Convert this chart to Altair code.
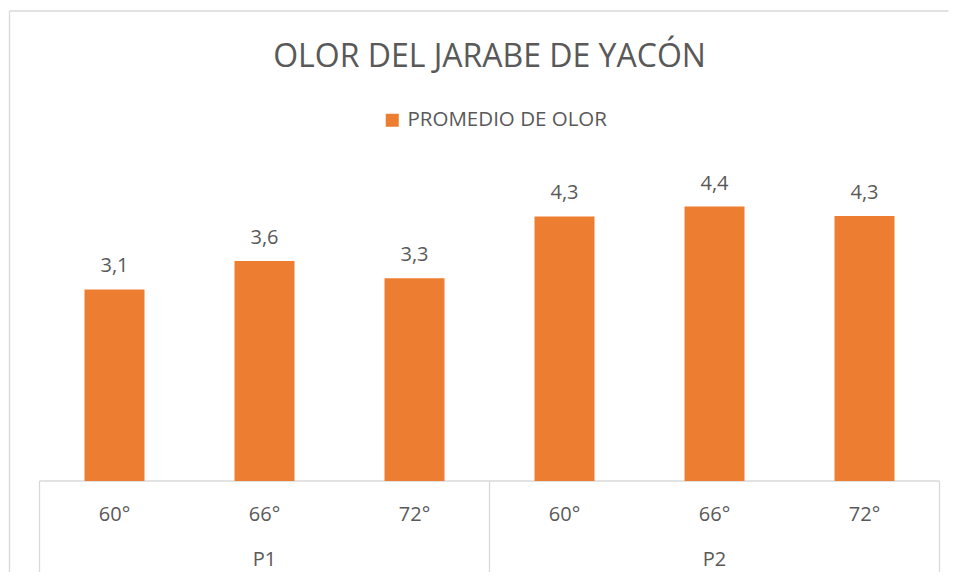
import altair as alt
import pandas as pd

# ---- data ----
titulo = "OLOR DEL JARABE DE YACÓN"
serie = "PROMEDIO DE OLOR"
grupos = ["P1", "P1", "P1", "P2", "P2", "P2"]
temperaturas = ["60°", "66°", "72°", "60°", "66°", "72°"]
promedios = [3.10, 3.56, 3.28, 4.28, 4.44, 4.29]

df = pd.DataFrame({"grupo": grupos, "temp": temperaturas, "valor": promedios})
df["clave"] = df["grupo"] + " " + df["temp"]
df["serie"] = serie
orden = list(df["clave"])

W, H = 900, 309
FONT = "Open Sans"
GRIS = "#595959"
LINEA = "#D9D9D9"
NARANJA = "#ED7D31"

x = alt.X("clave:N", sort=orden, axis=None,
          scale=alt.Scale(paddingInner=0.6, paddingOuter=0.3))
y = alt.Y("valor:Q", axis=None, scale=alt.Scale(domain=[0, 5]))

base = alt.Chart(df)

bars = base.mark_bar(color=NARANJA).encode(
    x=x, y=y,
    color=alt.Color("serie:N", scale=alt.Scale(range=[NARANJA]),
                    legend=alt.Legend(title=None, orient="none", legendX=342.5, legendY=-62,
                                      symbolType="square", symbolSize=169, symbolStrokeWidth=0,
                                      labelFontSize=20.5, labelFont=FONT, labelColor=GRIS,
                                      labelOffset=5, labelLimit=400)),
)

labels = base.transform_calculate(
    etiqueta="replace(format(datum.valor, '.1f'), '.', ',')"
).mark_text(dy=-17, baseline="alphabetic", fontSize=20, font=FONT, color=GRIS).encode(
    x=x, y=y, text="etiqueta:N")

temp_labels = base.mark_text(baseline="alphabetic", fontSize=20, font=FONT, color=GRIS).encode(
    x=x, y=alt.value(H + 40), text="temp:N")

group_labels = base.transform_filter(alt.datum.temp == "66°").mark_text(
    baseline="alphabetic", fontSize=20, font=FONT, color=GRIS).encode(
    x=x, y=alt.value(H + 85), text="grupo:N")

one = alt.Chart(alt.Data(values=[{"titulo": titulo}]))

title_mark = one.mark_text(baseline="alphabetic", align="center", fontSize=32, font=FONT,
                           color=GRIS).encode(
    x=alt.value(W / 2), y=alt.value(-104.7), text="titulo:N")

def rule(x1, x2, y1, y2):
    return one.mark_rule(color=LINEA, strokeWidth=1.3).encode(
        x=alt.value(x1), x2=alt.value(x2), y=alt.value(y1), y2=alt.value(y2))

lines = [
    rule(0, W, H, H),
    rule(0, 0, H, H + 94),
    rule(W / 2, W / 2, H, H + 94),
    rule(W, W, H, H + 94),
    rule(-30, -30, -161, H + 100),
    rule(-30, W + 9, -161, -161),
]

chart = alt.layer(*lines, bars, labels, temp_labels, group_labels, title_mark).properties(
    width=W, height=H,
    autosize=alt.AutoSizeParams(type="none"),
    padding={"left": 31.5, "top": 164, "right": 9.5, "bottom": 91},
).configure_view(stroke=None)

chart.save("out.html", embed_options={"renderer": "svg", "actions": False})
